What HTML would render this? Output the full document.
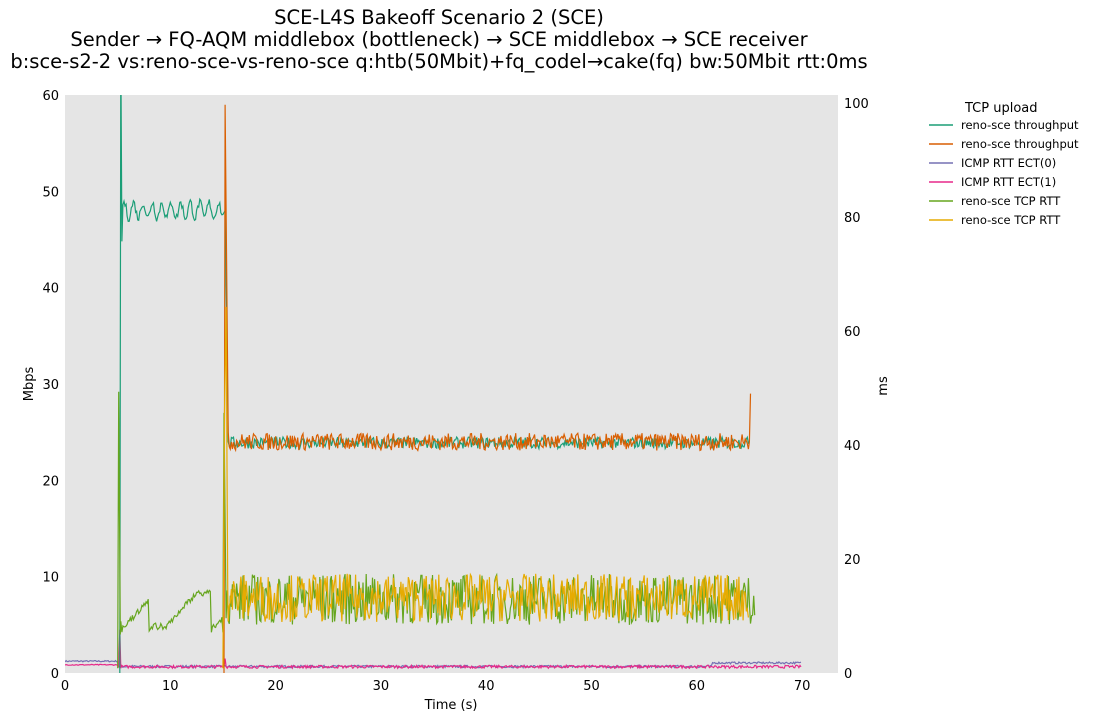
<!DOCTYPE html>
<html><head><meta charset="utf-8"><style>
body{margin:0;background:#fff;font-family:"Liberation Sans","DejaVu Sans",sans-serif;}
svg text{font-family:"DejaVu Sans","Liberation Sans",sans-serif;}
</style></head><body>
<svg id="s" width="1094" height="721" xmlns="http://www.w3.org/2000/svg">
<rect width="1094" height="721" fill="#fff"/>
<text x="439" y="24" font-size="19.5" text-anchor="middle">SCE-L4S Bakeoff Scenario 2 (SCE)</text>
<text x="439" y="46" font-size="19.5" text-anchor="middle">Sender → FQ-AQM middlebox (bottleneck) → SCE middlebox → SCE receiver</text>
<text x="439" y="68" font-size="19.5" text-anchor="middle">b:sce-s2-2 vs:reno-sce-vs-reno-sce q:htb(50Mbit)+fq_codel→cake(fq) bw:50Mbit rtt:0ms</text>
<rect x="65" y="95" width="773" height="578" fill="#e5e5e5"/>
<g id="ticks" font-size="13" fill="#000"></g>
<text x="33" y="384" font-size="13" text-anchor="middle" transform="rotate(-90 33 384)">Mbps</text>
<text x="887" y="386" font-size="13" text-anchor="middle" transform="rotate(-90 887 386)">ms</text>
<text x="451" y="709" font-size="13" text-anchor="middle">Time (s)</text>
<clipPath id="c"><rect x="65" y="95" width="773" height="578"/></clipPath>
<g id="lines" clip-path="url(#c)" fill="none" stroke-width="1.2"></g>
<g font-size="11.5">
<text x="965" y="112" font-size="13">TCP upload</text>
<line x1="929" x2="953" y1="125" y2="125" stroke="#1b9e77" stroke-width="1.5"/><text x="961" y="129">reno-sce throughput</text>
<line x1="929" x2="953" y1="144" y2="144" stroke="#d95f02" stroke-width="1.5"/><text x="961" y="148">reno-sce throughput</text>
<line x1="929" x2="953" y1="163" y2="163" stroke="#7570b3" stroke-width="1.5"/><text x="961" y="167">ICMP RTT ECT(0)</text>
<line x1="929" x2="953" y1="182" y2="182" stroke="#e7298a" stroke-width="1.5"/><text x="961" y="186">ICMP RTT ECT(1)</text>
<line x1="929" x2="953" y1="201" y2="201" stroke="#66a61e" stroke-width="1.5"/><text x="961" y="205">reno-sce TCP RTT</text>
<line x1="929" x2="953" y1="220" y2="220" stroke="#e6ab02" stroke-width="1.5"/><text x="961" y="224">reno-sce TCP RTT</text>
</g>
</svg>
<script>
function X(t){return 65+t*10.53;}
function Y(v){return 673-v*9.633;}
var seed=7;function r(){seed=(seed*16807)%2147483647;return seed/2147483647;}
var tk=document.getElementById('ticks'),h='';
for(var i=0;i<=60;i+=10)h+='<text x="59" y="'+(Y(i)+5)+'" text-anchor="end">'+i+'</text>';
for(var i=0;i<=100;i+=20)h+='<text x="844" y="'+(673-i*5.7+5)+'">'+i+'</text>';
for(var i=0;i<=70;i+=10)h+='<text x="'+X(i)+'" y="690" text-anchor="middle">'+i+'</text>';
tk.innerHTML=h;
var L=document.getElementById('lines'),out='';
function path(pts,col){var d='';pts.forEach(function(p,i){d+=(i?'L':'M')+X(p[0]).toFixed(1)+' '+Y(p[1]).toFixed(1);});out+='<path d="'+d+'" stroke="'+col+'"/>';}
var dt=0.1,p;
p=[];for(var t=0;t<=70;t+=dt){var v=t<5?1.15+r()*0.15:(t>61.5?0.95+r()*0.2:0.55+r()*0.25);p.push([t,v]);}path(p,'#7570b3');
p=[];for(var t=0;t<=70;t+=dt){var v=t<5?0.8+r()*0.1:0.5+r()*0.3;if(Math.abs(t-5.2)<0.06)v=4.5;if(Math.abs(t-15.2)<0.06)v=1.5;p.push([t,v]);}path(p,'#e7298a');
p=[[5.2,0],[5.3,65],[5.4,44.8]];for(var t=5.5;t<15;t+=0.1){p.push([t,47.6+Math.sin(t*7)*0.8+r()*0.9]);}p.push([15.2,48]);p.push([15.5,24]);
for(var t=15.6;t<65;t+=0.1){p.push([t,23.9+(r()-0.5)*1.2]);}p.push([65,24]);path(p,'#1b9e77');
p=[[15.1,0],[15.2,59],[15.5,25]];for(var t=15.6;t<65;t+=0.1){p.push([t,24+(r()-0.5)*1.8]);}p.push([65,24]);p.push([65.1,29]);path(p,'#d95f02');
p=[[5,0.5],[5.1,29.2],[5.25,4]];var s=5;for(var t=5.3;t<15;t+=0.1){s+=0.12;if(r()<0.05)s=4.2;p.push([t,Math.min(s,8)+r()*0.6]);}p.push([15.1,27]);
for(var t=15.3;t<65.5;t+=0.1){p.push([t,5+r()*5.3]);}p.push([65.5,6]);path(p,'#66a61e');
p=[[15,0.5],[15.15,27],[15.3,38],[15.45,9]];for(var t=15.5;t<65;t+=0.1){p.push([t,5.3+r()*5]);}path(p,'#e6ab02');
L.innerHTML=out;
</script>
</body></html>
